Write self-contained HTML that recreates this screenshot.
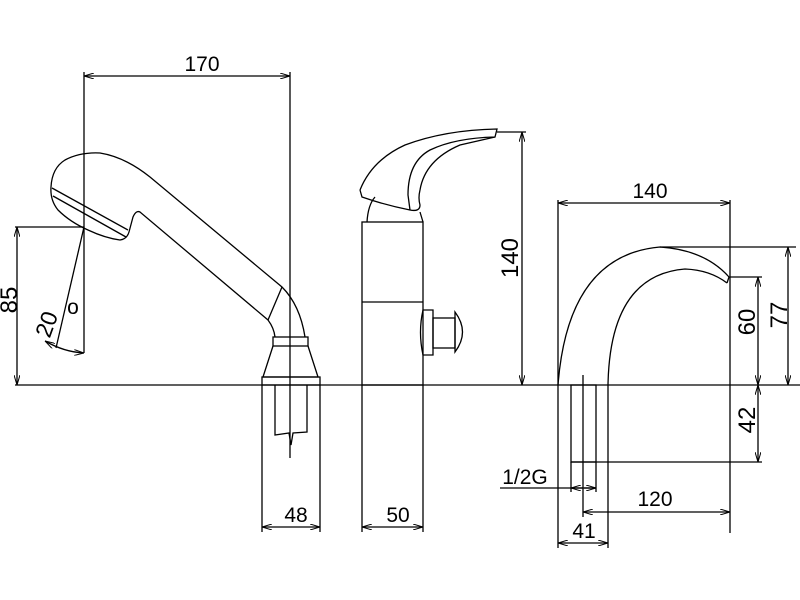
<!DOCTYPE html>
<html><head><meta charset="utf-8"><style>
html,body{margin:0;padding:0;background:#fff;width:800px;height:600px;overflow:hidden}
svg{display:block}
text{font-family:"Liberation Sans Narrow","Liberation Sans",sans-serif;font-size:21px;fill:#000}
.h{font-size:23px}
.v{font-size:24px}
</style></head><body>
<svg width="800" height="600" viewBox="0 0 800 600" xmlns="http://www.w3.org/2000/svg">
<defs>
<marker id="a" viewBox="0 0 10 6" refX="10" refY="3" markerWidth="10" markerHeight="6" orient="auto-start-reverse" markerUnits="userSpaceOnUse"><path d="M0,0 L10,3 L0,6" fill="none" stroke="#000" stroke-width="1"/></marker>
</defs>
<g fill="none" stroke="#000" stroke-width="1.3">
<line x1="15" y1="385" x2="800" y2="385"/>
<line x1="84" y1="72" x2="84" y2="353"/>
<line x1="290" y1="72" x2="290" y2="458"/>
<line x1="84" y1="76" x2="290" y2="76" marker-start="url(#a)" marker-end="url(#a)"/>
<line x1="15" y1="227" x2="84" y2="227"/>
<line x1="17" y1="227" x2="17" y2="385" marker-start="url(#a)" marker-end="url(#a)"/>
<line x1="84" y1="227" x2="56" y2="348"/>
<path d="M45,341 Q64,352 84,353" marker-start="url(#a)" marker-end="url(#a)"/>
<path d="M51,187 Q52,168 65,160 Q80,152 100,153 Q125,157 150,177 L282,287 Q300,305 305,337"/>
<path d="M51,187 Q50,200 58,210 Q70,222 88,230 Q105,238 120,240 Q127,239 129,232 L133,217 Q136,210 140,212 L268,320 Q274,328 275,337"/>
<line x1="52" y1="188" x2="128" y2="230"/>
<line x1="53" y1="196" x2="126" y2="237"/>
<line x1="282" y1="287" x2="268" y2="320"/>
<rect x="273" y="337" width="35" height="9"/>
<path d="M273,346 L263,377 L318,377 L308,346"/>
<rect x="262" y="377" width="58" height="8"/>
<path d="M275,385 L275,435 L289,433 L291,445 L293,433 L307,432 L307,385"/>
<line x1="262" y1="385" x2="262" y2="532"/>
<line x1="320" y1="385" x2="320" y2="532"/>
<line x1="262" y1="527" x2="320" y2="527" marker-start="url(#a)" marker-end="url(#a)"/>
<rect x="362" y="222" width="61" height="163"/>
<line x1="362" y1="302" x2="423" y2="302"/>
<path d="M367,222 Q368,205 375,197"/>
<path d="M420,212 L423,222"/>
<path d="M360,190 Q372,160 405,145 Q445,130 497,129 L495,137 Q455,138 430,150 Q408,162 408,195 L410,210"/>
<path d="M360,190 L362,197 Q385,205 410,210 Q420,212 420,205 Q418,198 420,190 Q425,160 460,145 L495,137"/>
<path d="M423,310 Q418,332 423,355 L433,355 L433,310 Z"/>
<rect x="433" y="318" width="22" height="30"/>
<path d="M455,312 Q470,332 455,352 Z"/>
<line x1="497" y1="132" x2="526" y2="132"/>
<line x1="522" y1="132" x2="522" y2="385" marker-start="url(#a)" marker-end="url(#a)"/>
<line x1="362" y1="385" x2="362" y2="532"/>
<line x1="423" y1="385" x2="423" y2="532"/>
<line x1="362" y1="527" x2="423" y2="527" marker-start="url(#a)" marker-end="url(#a)"/>
<line x1="558" y1="200" x2="558" y2="548"/>
<line x1="730" y1="200" x2="730" y2="533"/>
<line x1="558" y1="203" x2="730" y2="203" marker-start="url(#a)" marker-end="url(#a)"/>
<path d="M558,385 Q568,255 660,247 Q705,250 729,277 L727,283"/>
<path d="M608,385 Q610,275 685,269 Q710,270 727,283"/>
<line x1="660" y1="247" x2="796" y2="247"/>
<line x1="788" y1="247" x2="788" y2="385" marker-start="url(#a)" marker-end="url(#a)"/>
<line x1="730" y1="277" x2="762" y2="277"/>
<line x1="758" y1="277" x2="758" y2="385" marker-start="url(#a)" marker-end="url(#a)"/>
<line x1="758" y1="385" x2="758" y2="462" marker-start="url(#a)" marker-end="url(#a)"/>
<rect x="571" y="385" width="25" height="77"/>
<line x1="571" y1="462" x2="762" y2="462"/>
<line x1="583" y1="375" x2="583" y2="517"/>
<line x1="571" y1="462" x2="571" y2="492"/>
<line x1="596" y1="462" x2="596" y2="492"/>
<line x1="500" y1="488" x2="596" y2="488"/>
<line x1="571" y1="488" x2="583" y2="488" marker-start="url(#a)"/>
<line x1="584" y1="488" x2="596" y2="488" marker-end="url(#a)"/>
<line x1="583" y1="512" x2="730" y2="512" marker-start="url(#a)" marker-end="url(#a)"/>
<line x1="608" y1="385" x2="608" y2="548"/>
<line x1="558" y1="543" x2="608" y2="543" marker-start="url(#a)" marker-end="url(#a)"/>
</g>
<g class="h">
<text x="202" y="71" text-anchor="middle">170</text>
<text x="296" y="522" text-anchor="middle">48</text>
<text x="398" y="522" text-anchor="middle">50</text>
<text x="650" y="198" text-anchor="middle">140</text>
<text x="525" y="484" text-anchor="middle">1/2G</text>
<text x="655" y="506" text-anchor="middle">120</text>
<text x="584" y="538" text-anchor="middle">41</text>
</g>
<text class="v" transform="translate(17,300) rotate(-90)" text-anchor="middle">85</text>
<text class="h" transform="translate(54,327) rotate(-70)" text-anchor="middle">20</text>
<text x="73" y="314" text-anchor="middle" font-size="16">o</text>
<text class="v" transform="translate(518,258) rotate(-90)" text-anchor="middle">140</text>
<text class="v" transform="translate(787,315) rotate(-90)" text-anchor="middle">77</text>
<text class="v" transform="translate(755,322) rotate(-90)" text-anchor="middle">60</text>
<text class="v" transform="translate(755,420) rotate(-90)" text-anchor="middle">42</text>
</svg>
</body></html>
